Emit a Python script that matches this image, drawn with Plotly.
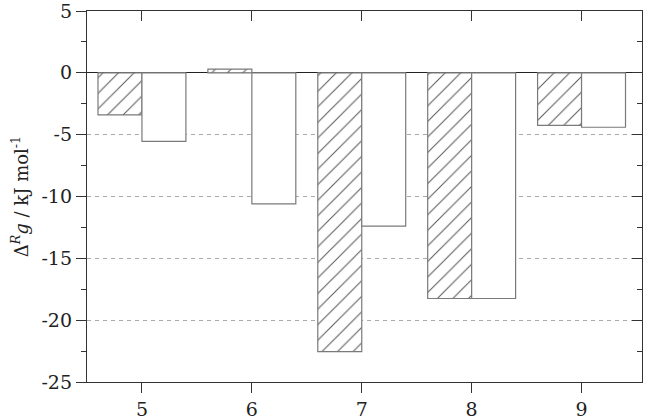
import plotly.graph_objects as go

categories = [5, 6, 7, 8, 9]
hatched_values = [-3.4, 0.3, -22.55, -18.25, -4.25]
white_values = [-5.55, -10.6, -12.4, -18.25, -4.4]
y_tick_vals = [5, 0, -5, -10, -15, -20, -25]
y_tick_text = ["5", "0", "-5", "-10", "-15", "-20", "-25"]
x_tick_text = ["5", "6", "7", "8", "9"]

FONT = "DejaVu Serif"
AX = "#333333"
EDGE = "#7a7a7a"

fig = go.Figure()
fig.add_trace(go.Bar(
    x=categories, y=hatched_values, offset=-0.4, width=0.4,
    marker=dict(color="white", line=dict(color=EDGE, width=1.2),
                pattern=dict(shape="/", fgcolor="#555555", bgcolor="white",
                             size=11, solidity=0.09, fillmode="replace")),
    showlegend=False, hoverinfo="skip"))
fig.add_trace(go.Bar(
    x=categories, y=white_values, offset=0, width=0.4,
    marker=dict(color="white", line=dict(color=EDGE, width=1.2)),
    showlegend=False, hoverinfo="skip"))
# empty trace so the mirrored top/right axes (inward ticks) are drawn
fig.add_trace(go.Scatter(x=[None], y=[None], xaxis="x2", yaxis="y2",
                         showlegend=False, hoverinfo="skip"))

xr = [4.5, 9.55]
yr = [-25, 5]
fig.update_layout(
    width=645, height=420,
    margin=dict(l=87, r=3, t=11, b=38, autoexpand=False),
    plot_bgcolor="white", paper_bgcolor="white",
    barmode="overlay",
    font=dict(family=FONT, size=18, color="#222222"),
    xaxis=dict(range=xr, tickvals=categories, ticktext=x_tick_text,
               ticks="outside", ticklen=10, tickwidth=1.3, tickcolor=AX,
               showline=True, linecolor=AX, linewidth=1.3, mirror=True,
               showgrid=False, zeroline=False, tickfont=dict(size=19),
               automargin=False, ticklabeloverflow="allow"),
    yaxis=dict(range=yr, tickvals=y_tick_vals, ticktext=y_tick_text,
               ticks="outside", ticklen=10, tickwidth=1.3, tickcolor=AX,
               showline=True, linecolor=AX, linewidth=1.3, mirror=True,
               showgrid=True, gridcolor="#aaaaaa", griddash="4px,4px", gridwidth=1,
               zeroline=True, zerolinecolor="#222222", zerolinewidth=1.3,
               minor=dict(dtick=2.5, ticklen=5, tickwidth=1.3, tickcolor=AX,
                          ticks="outside", showgrid=False),
               tickfont=dict(size=19), automargin=False, ticklabeloverflow="allow",
               title=dict(text="Δ<sup><i>R</i></sup><i>g</i> / kJ mol<sup>-1</sup>",
                          font=dict(size=18), standoff=8)),
    xaxis2=dict(range=xr, overlaying="x", side="top", anchor="y",
                tickvals=categories, ticks="inside", ticklen=10, tickwidth=1.3,
                tickcolor=AX, showticklabels=False, showgrid=False, zeroline=False,
                automargin=False),
    yaxis2=dict(range=yr, overlaying="y", side="right", anchor="x",
                tickvals=y_tick_vals, ticks="inside", ticklen=10, tickwidth=1.3,
                tickcolor=AX, showticklabels=False, showgrid=False, zeroline=False,
                automargin=False,
                minor=dict(dtick=2.5, ticklen=5, tickwidth=1.3, tickcolor=AX,
                           ticks="inside", showgrid=False)),
)

fig.write_html("out.html", config={"displayModeBar": False},
               post_script="document.body.style.margin='0';document.body.style.overflow='hidden';")
